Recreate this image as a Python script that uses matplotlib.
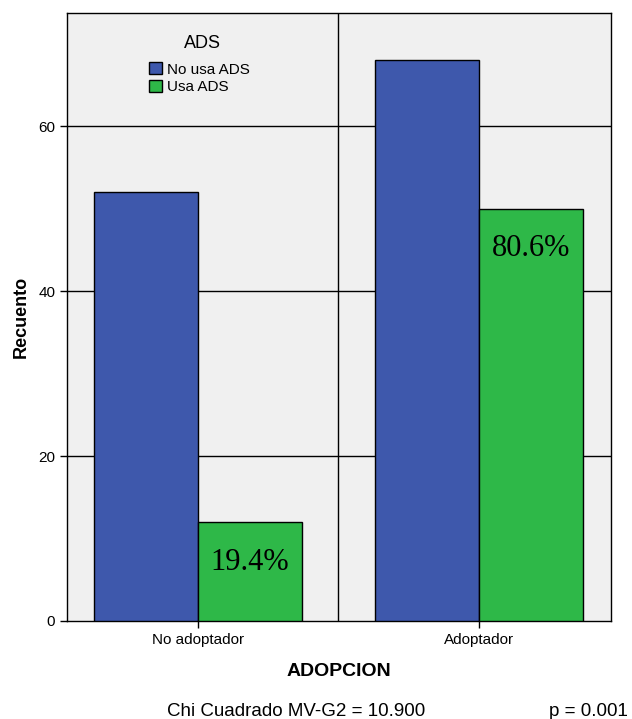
import matplotlib
matplotlib.use("Agg")
import matplotlib.pyplot as plt
from matplotlib.patches import Patch
import numpy as np

categories = ["No adoptador", "Adoptador"]
series_names = ["No usa ADS", "Usa ADS"]
no_usa = [52, 68]
usa = [12, 50]
pct_labels = ["19.4%", "80.6%"]
yticks = [0, 20, 40, 60]

plt.rcParams['font.family'] = ['Liberation Sans', 'DejaVu Sans']

fig = plt.figure(figsize=(6.32, 7.19), dpi=100)
ax = fig.add_axes([67/632, 1-621/719, 544/632, 608/719])
ax.set_facecolor('#F0F0F0')

x = np.arange(len(categories))
w = 0.37
blue = '#3E58AC'
green = '#2EB848'
ax.bar(x - w/2, no_usa, w, color=blue, edgecolor='black', linewidth=1, zorder=3)
ax.bar(x + w/2, usa, w, color=green, edgecolor='black', linewidth=1, zorder=3)

for xi, v, lab in zip(x, usa, pct_labels):
    ax.text(xi + w/2, v - 4.9, lab, ha='center', va='center', fontsize=22,
            family='Liberation Serif', zorder=4)

ax.set_xlim(-0.466, 1.47)
ax.set_ylim(0, 73.7)
ax.set_yticks(yticks)
ax.set_xticks(x)
ax.set_xticklabels(categories, fontsize=11)
ax.tick_params(axis='y', labelsize=11, length=5, width=1, direction='out')
ax.tick_params(axis='x', length=5, width=1, direction='out')
for yv in yticks[1:]:
    ax.axhline(yv, color='black', linewidth=1, zorder=1)
ax.axvline(0.5, color='black', linewidth=1, zorder=1)
for s in ax.spines.values():
    s.set_linewidth(1)

ax.set_ylabel("Recuento", fontsize=13, fontweight='bold', labelpad=6)
ax.set_xlabel("ADOPCION", fontsize=14, fontweight='bold', labelpad=12)

handles = [Patch(facecolor=blue, edgecolor='black', label=series_names[0]),
           Patch(facecolor=green, edgecolor='black', label=series_names[1])]
ax.text(202/632, 1-43/719, "ADS", transform=fig.transFigure, ha='center',
        va='center', fontsize=13)
leg = ax.legend(handles=handles, loc='upper left',
                bbox_to_anchor=(0.14, 0.929), frameon=False, fontsize=11,
                handlelength=0.85, handleheight=0.85,
                handletextpad=0.3, labelspacing=0.2, borderaxespad=0)

fig.text(296/632, 1-711/719, "Chi Cuadrado MV-G2 = 10.900", ha='center', va='center', fontsize=13.5)
fig.text(628/632, 1-711/719, "p = 0.001", ha='right', va='center', fontsize=13.5)

fig.savefig("out.png", dpi=100)
